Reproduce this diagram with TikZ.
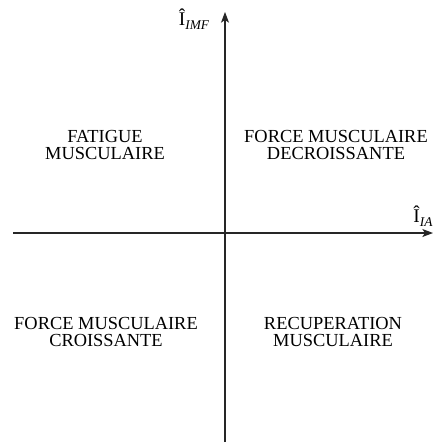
\documentclass[tikz,border=0pt]{standalone}
\usepackage{fontspec}
\setmainfont{Liberation Serif}
\usetikzlibrary{arrows.meta}
\newcommand{\axsub}[1]{\raisebox{-3.2pt}{\fontsize{10}{10}\selectfont\itshape #1}}
\begin{document}
\begin{tikzpicture}[x=0.75pt,y=-0.75pt,
  axis/.style={line width=0.8pt,draw=black!85,-{Stealth[length=8pt,width=6pt,inset=2pt]}},
  quad/.style={align=center,inner sep=0pt,font=\fontsize{13.8}{12.9}\selectfont},
  axlab/.style={inner sep=0pt,font=\fontsize{14.5}{14}\selectfont}]
\useasboundingbox (0,0) rectangle (434,444);
\coordinate (xl) at (13,233);
\coordinate (xr) at (433,233);
\coordinate (yb) at (225,442);
\coordinate (yt) at (225,12);
\draw[axis] (xl) -- (xr);
\draw[axis] (yb) -- (yt);
\node[axlab] (lia) at (423,216) {Î\axsub{IA}};
\node[axlab] (limf) at (194,19) {Î\axsub{IMF}};
\node[quad] (q1) at (105,145) {FATIGUE\\MUSCULAIRE};
\node[quad] (q2) at (336,145) {FORCE MUSCULAIRE\\DECROISSANTE};
\node[quad] (q3) at (106,332) {FORCE MUSCULAIRE\\CROISSANTE};
\node[quad] (q4) at (333,332) {RECUPERATION\\MUSCULAIRE};
\end{tikzpicture}
\end{document}
